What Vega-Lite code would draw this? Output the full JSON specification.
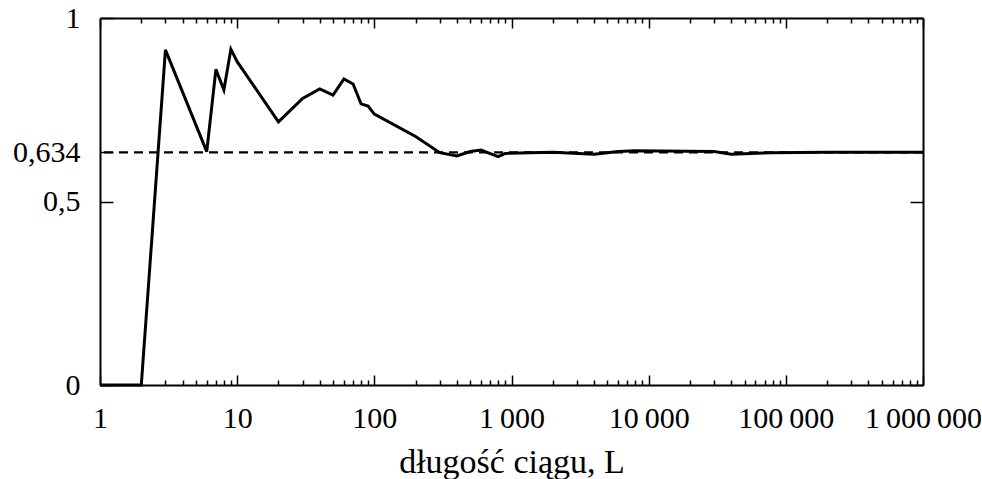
{
  "$schema": "https://vega.github.io/schema/vega-lite/v6.json",
  "width": 823,
  "height": 367,
  "autosize": "none",
  "padding": {"left": 100, "top": 18, "right": 59, "bottom": 94},
  "background": "white",
  "config": {
    "view": {"stroke": null},
    "axis": {
      "grid": false,
      "domainColor": "black",
      "domainWidth": 2,
      "tickColor": "black",
      "tickWidth": 1.5,
      "labelFont": "Liberation Serif",
      "labelFontSize": 30,
      "labelColor": "black",
      "titleFont": "Liberation Serif",
      "titleFontSize": 34,
      "titleFontWeight": "normal",
      "titleColor": "black"
    }
  },
  "datasets": {
    "series": [
      {"L": 1, "v": 0},
      {"L": 2, "v": 0},
      {"L": 3, "v": 0.913},
      {"L": 6, "v": 0.636},
      {"L": 7, "v": 0.86},
      {"L": 8, "v": 0.804},
      {"L": 9, "v": 0.915},
      {"L": 10, "v": 0.881},
      {"L": 20, "v": 0.717},
      {"L": 30, "v": 0.781},
      {"L": 40, "v": 0.807},
      {"L": 50, "v": 0.79},
      {"L": 60, "v": 0.834},
      {"L": 70, "v": 0.82},
      {"L": 80, "v": 0.766},
      {"L": 90, "v": 0.76},
      {"L": 100, "v": 0.738},
      {"L": 200, "v": 0.677},
      {"L": 300, "v": 0.633},
      {"L": 400, "v": 0.624},
      {"L": 500, "v": 0.636},
      {"L": 600, "v": 0.64},
      {"L": 800, "v": 0.622},
      {"L": 900, "v": 0.631},
      {"L": 2000, "v": 0.634},
      {"L": 4000, "v": 0.629},
      {"L": 6000, "v": 0.636},
      {"L": 8000, "v": 0.638},
      {"L": 30000, "v": 0.636},
      {"L": 40000, "v": 0.629},
      {"L": 80000, "v": 0.633},
      {"L": 200000, "v": 0.634},
      {"L": 1000000, "v": 0.634}
    ],
    "reference": [{"r": 0.634}]
  },
  "resolve": {"axis": {"x": "independent", "y": "independent"}},
  "layer": [
    {
      "data": {"name": "series"},
      "mark": {"type": "line", "color": "black", "strokeWidth": 3, "strokeJoin": "miter"},
      "encoding": {
        "x": {
          "field": "L", "type": "quantitative",
          "scale": {"type": "log", "domain": [1, 1000000], "nice": false},
          "axis": {
            "orient": "bottom",
            "values": [1, 10, 100, 1000, 10000, 100000, 1000000],
            "tickSize": -10,
            "labelPadding": 28,
            "labelFlush": false,
            "labelOverlap": false,
            "labelExpr": "datum.value == 1000 ? '1\u2009000' : datum.value == 10000 ? '10\u2009000' : datum.value == 100000 ? '100\u2009000' : datum.value == 1000000 ? '1\u2009000\u2009000' : datum.value == 10 ? '10' : datum.value == 100 ? '100' : '1'",
            "title": "długość ciągu, L",
            "titlePadding": 12
          }
        },
        "y": {
          "field": "v", "type": "quantitative",
          "scale": {"domain": [0, 1], "nice": false, "zero": false},
          "axis": {
            "orient": "left",
            "values": [0, 0.5, 0.634, 1],
            "tickSize": -13,
            "labelPadding": 33,
            "labelOverlap": false,
            "labelFlush": false,
            "labelExpr": "datum.value == 0.634 ? '0,634' : datum.value == 0.5 ? '0,5' : datum.value == 1 ? '1' : '0'",
            "title": null
          }
        }
      }
    },
    {
      "data": {"name": "series"},
      "mark": {"type": "line", "opacity": 0},
      "encoding": {
        "x": {
          "field": "L", "type": "quantitative",
          "axis": {
            "orient": "top",
            "values": [1, 10, 100, 1000, 10000, 100000, 1000000],
            "tickSize": -10,
            "labels": false,
            "title": null
          }
        },
        "y": {
          "field": "v", "type": "quantitative",
          "axis": {
            "orient": "right",
            "values": [0, 0.5, 1],
            "tickSize": -13,
            "labels": false,
            "title": null
          }
        }
      }
    },
    {
      "data": {"name": "series"},
      "mark": {"type": "line", "opacity": 0},
      "encoding": {
        "x": {
          "field": "L", "type": "quantitative",
          "axis": {
            "orient": "bottom",
            "values": [2,3,4,5,6,7,8,9,20,30,40,50,60,70,80,90,200,300,400,500,600,700,800,900,2000,3000,4000,5000,6000,7000,8000,9000,20000,30000,40000,50000,60000,70000,80000,90000,200000,300000,400000,500000,600000,700000,800000,900000],
            "tickSize": -5,
            "domain": false,
            "labels": false,
            "title": null
          }
        },
        "y": {"field": "v", "type": "quantitative", "axis": null}
      }
    },
    {
      "data": {"name": "series"},
      "mark": {"type": "line", "opacity": 0},
      "encoding": {
        "x": {
          "field": "L", "type": "quantitative",
          "axis": {
            "orient": "top",
            "values": [2,3,4,5,6,7,8,9,20,30,40,50,60,70,80,90,200,300,400,500,600,700,800,900,2000,3000,4000,5000,6000,7000,8000,9000,20000,30000,40000,50000,60000,70000,80000,90000,200000,300000,400000,500000,600000,700000,800000,900000],
            "tickSize": -5,
            "domain": false,
            "labels": false,
            "title": null
          }
        },
        "y": {"field": "v", "type": "quantitative", "axis": null}
      }
    },
    {
      "data": {"name": "reference"},
      "mark": {"type": "rule", "color": "black", "strokeWidth": 2.2, "strokeDash": [9, 6]},
      "encoding": {
        "y": {"field": "r", "type": "quantitative", "axis": null}
      }
    }
  ]
}
